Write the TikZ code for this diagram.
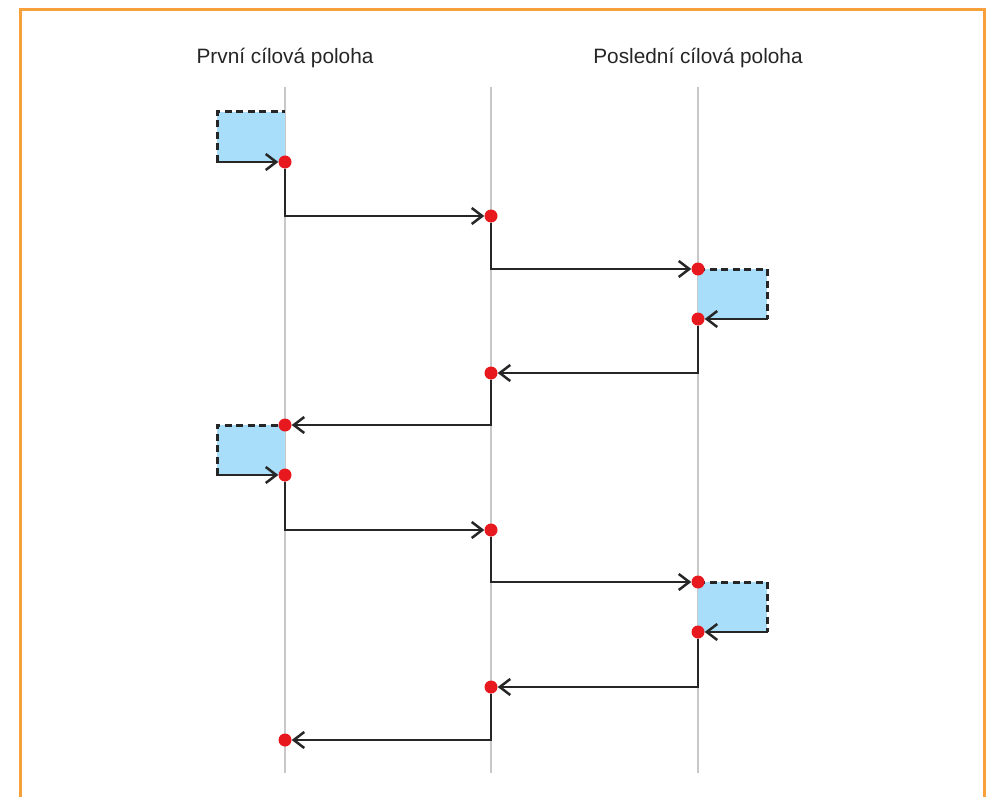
\documentclass[tikz,border=0pt]{standalone}
\usepackage{fontspec}
\setmainfont{Liberation Sans}
\usetikzlibrary{arrows.meta}
\definecolor{borderor}{HTML}{F7A03C}
\definecolor{boxblue}{HTML}{A8DEF9}
\definecolor{dotred}{HTML}{E8191E}
\definecolor{guide}{HTML}{C8C8C8}
\definecolor{ink}{HTML}{262626}
\tikzset{
  dot/.style={circle,fill=dotred,inner sep=0pt,minimum size=13pt},
  guideline/.style={draw=guide,line width=1.8pt},
  conn/.style={draw=ink,line width=2.5pt,-{Straight Barb[length=10.5pt,width=16pt,line width=2.5pt]}},
  dashedge/.style={draw=ink,line width=3pt,dash pattern=on 7pt off 4.5pt},
  boxfill/.style={fill=boxblue},
  title/.style={font=\fontsize{20.8}{25}\selectfont,text=ink,anchor=base,inner sep=0pt}
}
\begin{document}
\begin{tikzpicture}[x=1pt,y=-1pt]
\useasboundingbox (0,0) rectangle (986,797);
\fill[white] (0,0) rectangle (986,797);
% border
\draw[borderor,line width=3pt] (20.5,797) -- (20.5,9.5) -- (984.5,9.5) -- (984.5,797);
% titles
\node[title] (t1) at (285,64) {První cílová poloha};
\node[title] (t2) at (698,64) {Poslední cílová poloha};
% guide lines
\coordinate (g1t) at (285,87); \coordinate (g1b) at (285,773);
\coordinate (g2t) at (491,87); \coordinate (g2b) at (491,773);
\coordinate (g3t) at (698,87); \coordinate (g3b) at (698,773);
\draw[guideline] (g1t) -- (g1b);
\draw[guideline] (g2t) -- (g2b);
\draw[guideline] (g3t) -- (g3b);
% blue boxes
\fill[boxfill] (217,112) rectangle (285,162);
\fill[boxfill] (698,269) rectangle (767,319);
\fill[boxfill] (217,425) rectangle (285,475);
\fill[boxfill] (698,582) rectangle (767,632);
\draw[dashedge] (217,162) -- (217,112) -- (285,112);
\draw[dashedge] (698,269) -- (767,269) -- (767,319);
\draw[dashedge] (217,475) -- (217,425) -- (285,425);
\draw[dashedge] (698,582) -- (767,582) -- (767,632);
% dots
\node[dot] (p1) at (285,162) {};
\node[dot] (p2) at (491,216) {};
\node[dot] (p3) at (698,269) {};
\node[dot] (p4) at (698,319) {};
\node[dot] (p5) at (491,373) {};
\node[dot] (p6) at (285,425) {};
\node[dot] (p7) at (285,475) {};
\node[dot] (p8) at (491,530) {};
\node[dot] (p9) at (698,582) {};
\node[dot] (p10) at (698,632) {};
\node[dot] (p11) at (491,687) {};
\node[dot] (p12) at (285,740) {};
% incoming arrows
\coordinate (i1) at (216,162);
\coordinate (i2) at (768,319);
\coordinate (i3) at (216,475);
\coordinate (i4) at (768,632);
\draw[conn] (i1) -- (p1);
\draw[conn] (i2) -- (p4);
\draw[conn] (i3) -- (p7);
\draw[conn] (i4) -- (p10);
% connectors
\draw[conn] (p1) |- (p2);
\draw[conn] (p2) |- (p3);
\draw[conn] (p4) |- (p5);
\draw[conn] (p5) |- (p6);
\draw[conn] (p7) |- (p8);
\draw[conn] (p8) |- (p9);
\draw[conn] (p10) |- (p11);
\draw[conn] (p11) |- (p12);
\end{tikzpicture}
\end{document}
